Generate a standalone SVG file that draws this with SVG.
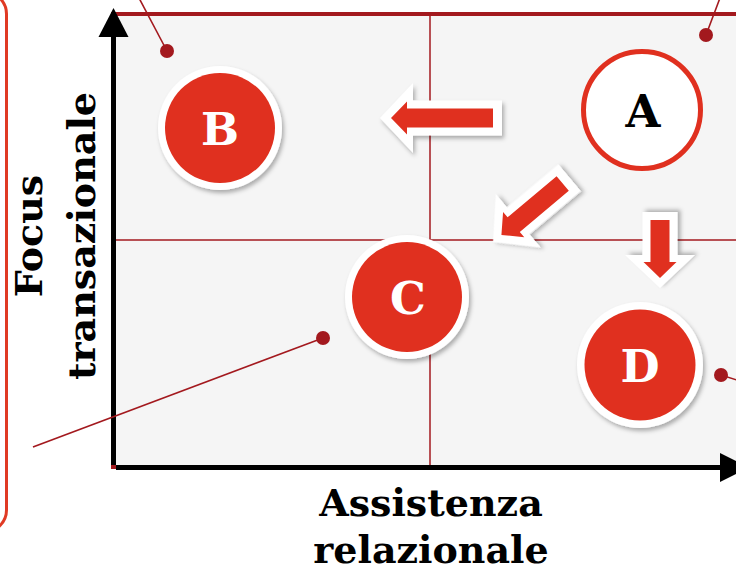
<svg xmlns="http://www.w3.org/2000/svg" width="736" height="571" viewBox="0 0 736 571">
  <style>
    .lbl { font-family: "DejaVu Serif", "Liberation Serif", serif; font-weight: bold; fill: #000; text-anchor: middle; }
    .axis-lbl { font-size: 38px; }
    .node-lbl { font-size: 45px; }
    .node-lbl.inv { fill: #fff; }
    .grid { stroke: #a3191e; stroke-width: 1.5; fill: none; }
    .leader { stroke: #a3191e; stroke-width: 1.6; fill: none; }
    .dot { fill: #a3191e; }
    .axis { stroke: #000; stroke-width: 5; fill: none; }
    .ring { fill: #fff; }
    .disc { fill: #e0301f; }
    .arrow-out { fill: #fff; }
    .arrow-in { fill: #e0301f; }
  </style>
  <defs>
    <filter id="shadow" x="-20%" y="-20%" width="150%" height="150%">
      <feDropShadow dx="2" dy="3" stdDeviation="2.2" flood-color="#000" flood-opacity="0.3"/>
    </filter>
  </defs>

  <!-- side bracket -->
  <rect x="-60" y="-8" width="66.5" height="540" rx="22" fill="none" stroke="#e03a24" stroke-width="3"/>

  <!-- plot area -->
  <g id="plot">
    <rect x="113" y="14" width="700" height="453" fill="#f5f5f5" stroke="#a3191e" stroke-width="4"/>
    <line class="grid" x1="430" y1="16" x2="430" y2="465"/>
    <line class="grid" x1="116" y1="240" x2="736" y2="240"/>
  </g>

  <!-- axes -->
  <g id="axes">
    <line class="axis" x1="113.5" y1="465" x2="113.5" y2="34"/>
    <polygon points="113.5,8 128.5,37 98.5,37" fill="#000"/>
    <line class="axis" x1="116" y1="467.5" x2="722" y2="467.5"/>
    <polygon points="749,467.5 720,453 720,482" fill="#000"/>
  </g>

  <!-- axis titles -->
  <g id="y-title">
    <text class="lbl axis-lbl" transform="translate(42,236) rotate(-90)">Focus</text>
    <text class="lbl axis-lbl" transform="translate(95,236) rotate(-90)">transazionale</text>
  </g>
  <g id="x-title">
    <text class="lbl axis-lbl" x="431" y="516">Assistenza</text>
    <text class="lbl axis-lbl" x="431" y="563">relazionale</text>
  </g>

  <!-- connectors: leaders and block arrows -->
  <g id="connectors">
    <line class="leader" x1="167" y1="51" x2="139" y2="-2"/>
    <circle class="dot" cx="167" cy="51" r="7"/>
    <line class="leader" x1="706" y1="35" x2="720" y2="-2"/>
    <circle class="dot" cx="706" cy="35" r="7"/>
    <line class="leader" x1="323" y1="338" x2="33" y2="447"/>
    <circle class="dot" cx="323" cy="338" r="7"/>
    <line class="leader" x1="721" y1="375" x2="740" y2="381"/>
    <circle class="dot" cx="721" cy="375" r="7"/>

    <!-- toward B -->
    <g transform="translate(380,118)">
      <polygon class="arrow-out" filter="url(#shadow)" points="0,0 33,-35 33,-17.5 122,-17.5 122,17.5 33,17.5 33,35"/>
      <polygon class="arrow-in" points="11,0 27,-16.5 27,-9.5 113,-9.5 113,9.5 27,9.5 27,16.5"/>
    </g>
    <!-- toward C -->
    <g transform="translate(493,242) rotate(-40)">
      <polygon class="arrow-out" filter="url(#shadow)" points="0,0 33,-35 33,-17.5 100,-17.5 100,17.5 33,17.5 33,35"/>
      <polygon class="arrow-in" points="11,0 27,-16.5 27,-9.5 91,-9.5 91,9.5 27,9.5 27,16.5"/>
    </g>
    <!-- toward D -->
    <g transform="translate(660,288) rotate(-90)">
      <polygon class="arrow-out" filter="url(#shadow)" points="0,0 33,-35 33,-17.5 76,-17.5 76,17.5 33,17.5 33,35"/>
      <polygon class="arrow-in" points="10,0 26,-16.5 26,-9.5 68,-9.5 68,9.5 26,9.5 26,16.5"/>
    </g>
  </g>

  <!-- nodes -->
  <g id="node-A">
    <circle cx="642" cy="110" r="58.5" fill="#fff" stroke="#e0301f" stroke-width="5"/>
    <text class="lbl node-lbl" x="643" y="127">A</text>
  </g>
  <g id="node-B">
    <circle class="ring" cx="220" cy="128" r="62" filter="url(#shadow)"/>
    <circle class="disc" cx="220" cy="128" r="55"/>
    <text class="lbl node-lbl inv" x="220" y="145">B</text>
  </g>
  <g id="node-C">
    <circle class="ring" cx="407" cy="297" r="62" filter="url(#shadow)"/>
    <circle class="disc" cx="407" cy="297" r="55"/>
    <text class="lbl node-lbl inv" x="408" y="314">C</text>
  </g>
  <g id="node-D">
    <circle class="ring" cx="640" cy="365" r="63" filter="url(#shadow)"/>
    <circle class="disc" cx="640" cy="365" r="55.5"/>
    <text class="lbl node-lbl inv" x="640" y="382">D</text>
  </g>
</svg>
